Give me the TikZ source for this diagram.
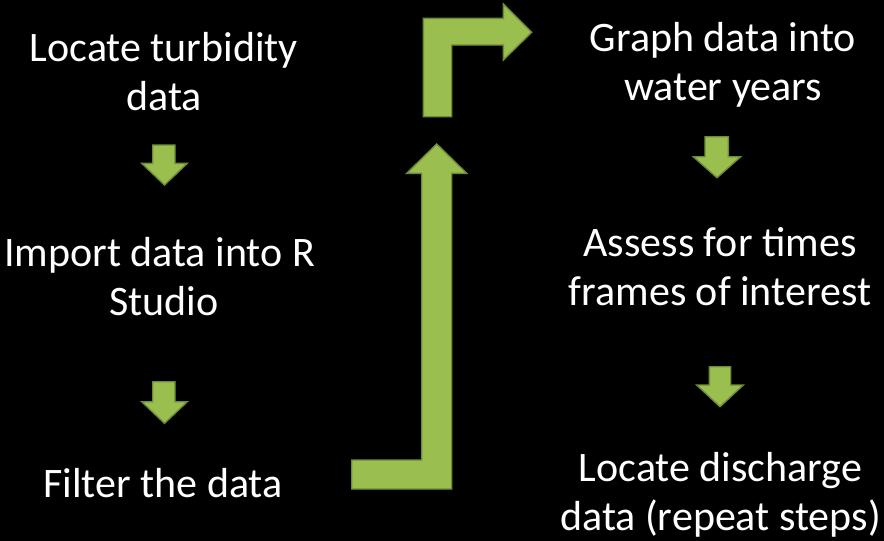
\documentclass[tikz,border=0pt]{standalone}
\usepackage{fontspec}
\setmainfont{Carlito}
\definecolor{leaf}{HTML}{9BBF4F}
\definecolor{leafedge}{HTML}{6E8C37}
\tikzset{
  label/.style={text=white, align=center, anchor=base, inner sep=0pt,
    font=\fontsize{42}{49}\selectfont},
  blockarrow/.style={fill=leaf, draw=leafedge, line width=1.4pt, line join=miter}
}
\begin{document}
\begin{tikzpicture}[x=1pt, y=-1pt]
  \fill[black] (0,0) rectangle (884,541);
  \useasboundingbox (0,0) rectangle (884,541);

  % left column (anchored on the baseline of the last line)
  \node[label] (turb)   at (164,110) {Locate turbidity\\data};
  \node[label] (import) at (164,315) {Import data into R\kern9pt\\Studio};
  \node[label] (filter) at (163,497) {Filter the data};

  % right column
  \node[label] (graph)  at (723,100) {Graph data into\\water years};
  \node[label] (assess) at (720,305) {Assess for times\\frames of interest};
  \node[label] (disch)  at (720.5,530) {Locate discharge\\data (repeat steps)};

  % small downward arrows
  \draw[blockarrow] (152.7,145) -- (175,145) -- (175,163.3) -- (187.3,163.3)
    -- (164.5,185) -- (141.7,163.3) -- (152.7,163.3) -- cycle;
  \draw[blockarrow] (152.7,381.7) -- (175,381.7) -- (175,401.7) -- (187.3,401.7)
    -- (164.5,423.3) -- (141.7,401.7) -- (152.7,401.7) -- cycle;
  \draw[blockarrow] (705,136.7) -- (728.3,136.7) -- (728.3,156.7) -- (740.7,156.7)
    -- (717,177.7) -- (693.3,156.7) -- (705,156.7) -- cycle;
  \draw[blockarrow] (709.3,366.7) -- (730.7,366.7) -- (730.7,385) -- (743.3,385)
    -- (720,406.7) -- (696.7,385) -- (709.3,385) -- cycle;

  % long bent arrow rising from the filter step
  \draw[blockarrow] (351.7,460) -- (421.7,460) -- (421.7,173.3) -- (406.7,173.3)
    -- (436.7,144) -- (466.7,173.3) -- (451.7,173.3) -- (451.7,489)
    -- (351.7,489) -- cycle;

  % bent arrow turning across to the right column
  \draw[blockarrow] (423.3,116.7) -- (423.3,18.3) -- (503.3,18.3) -- (503.3,4)
    -- (531.7,32.3) -- (503.3,60) -- (503.3,45) -- (451.7,45)
    -- (451.7,116.7) -- cycle;
\end{tikzpicture}
\end{document}
